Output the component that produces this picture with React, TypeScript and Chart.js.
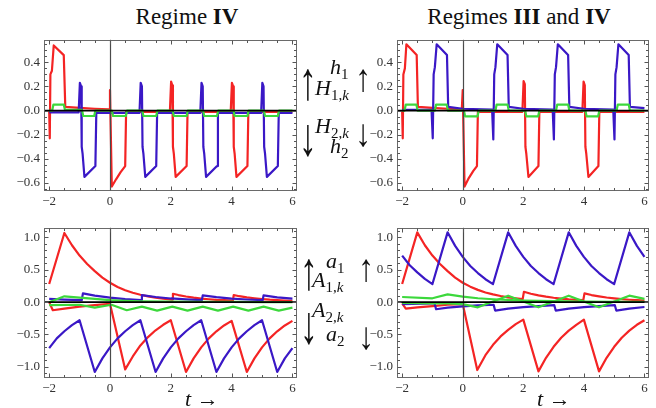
import React, { useEffect, useRef } from "react";
import { Chart, registerables } from "chart.js";
Chart.register(...registerables);

const RED = "#f42424";
const BLUE = "#3a18c6";
const GREEN = "#3cd83c";

const xTicks = [-2, 0, 2, 4, 6];
const hTicks = [-0.6, -0.4, -0.2, 0, 0.2, 0.4];
const aTicks = [-1, -0.5, 0, 0.5, 1];

// ---------- top-left: h, Regime IV ----------
const tlRedT = [-2, -1.98, -1.96, -1.91, -1.85, -1.52, -1.47, -1.0, -0.5, -0.03, 0.0, 0.06, 0.2, 0.35, 0.5, 0.53, 1.97, 2.01, 2.05, 2.07, 2.1, 2.16, 2.52, 2.55, 3.97, 4.01, 4.05, 4.07, 4.1, 4.16, 4.52, 4.55, 6.0];
const tlRedY = [0, -0.23, 0.30, 0.33, 0.54, 0.46, 0.03, 0.022, 0.015, 0.01, 0.17, -0.63, -0.57, -0.51, -0.46, -0.01, -0.01, 0.24, 0.21, -0.30, -0.36, -0.55, -0.46, -0.01, -0.01, 0.23, 0.20, -0.30, -0.36, -0.55, -0.46, -0.01, -0.01];
const tlBlueT = [-2, -1.03, -0.99, -0.95, -0.93, -0.9, -0.84, -0.48, -0.45, 0.97, 1.01, 1.05, 1.07, 1.1, 1.16, 1.52, 1.55, 2.97, 3.01, 3.05, 3.07, 3.1, 3.16, 3.52, 3.55, 4.97, 5.01, 5.05, 5.07, 5.1, 5.16, 5.52, 5.55, 6.0];
const tlBlueY = [-0.015, -0.015, 0.23, 0.20, -0.30, -0.36, -0.55, -0.46, -0.02, -0.02, 0.23, 0.20, -0.30, -0.36, -0.55, -0.46, -0.02, -0.02, 0.23, 0.20, -0.30, -0.36, -0.55, -0.46, -0.02, -0.02, 0.23, 0.20, -0.30, -0.36, -0.55, -0.46, -0.02, -0.02];
const tlGreenT = [-2, -1.9, -1.86, -1.52, -1.48, -0.92, -0.88, -0.52, -0.48, 0.06, 0.1, 0.52, 0.56, 1.06, 1.1, 1.52, 1.56, 2.06, 2.1, 2.52, 2.56, 3.06, 3.1, 3.52, 3.56, 4.06, 4.1, 4.52, 4.56, 5.06, 5.1, 5.52, 5.56, 6.0];
const tlGreenY = [0, 0, 0.05, 0.05, 0.005, 0.005, -0.045, -0.045, 0, 0, -0.045, -0.045, 0, 0, -0.045, -0.045, 0, 0, -0.045, -0.045, 0, 0, -0.045, -0.045, 0, 0, -0.045, -0.045, 0, 0, -0.045, -0.045, 0, 0];

// ---------- top-right: h, Regimes III and IV ----------
const trRedT = [-2, -1.98, -1.96, -1.91, -1.86, -1.52, -1.48, -1.0, -0.5, -0.03, 0.0, 0.06, 0.2, 0.35, 0.47, 0.5, 1.97, 2.01, 2.05, 2.07, 2.1, 2.17, 2.5, 2.53, 3.95, 3.99, 4.03, 4.05, 4.08, 4.15, 4.48, 4.51, 6.0];
const trRedY = [0, -0.23, 0.30, 0.35, 0.55, 0.46, 0.03, 0.022, 0.015, 0.01, 0.17, -0.63, -0.56, -0.5, -0.46, -0.01, -0.01, 0.245, 0.22, -0.30, -0.36, -0.55, -0.46, -0.01, -0.01, 0.24, 0.21, -0.30, -0.36, -0.55, -0.46, -0.01, -0.01];
const trBlueT = [-2, -1.03, -0.99, -0.96, -0.92, -0.86, -0.52, -0.48, 0.0, 0.97, 1.01, 1.04, 1.08, 1.14, 1.48, 1.52, 2.0, 2.97, 3.01, 3.04, 3.08, 3.14, 3.48, 3.52, 4.0, 4.97, 5.01, 5.04, 5.08, 5.14, 5.48, 5.52, 6.0];
const trBlueY = [0.005, 0.005, -0.23, 0.30, 0.36, 0.55, 0.46, 0.03, 0.015, 0.008, -0.24, 0.30, 0.36, 0.55, 0.46, 0.03, 0.015, 0.008, -0.24, 0.30, 0.36, 0.55, 0.46, 0.03, 0.015, 0.008, -0.24, 0.30, 0.36, 0.55, 0.46, 0.03, 0.02];
const trGreenT = [-2, -1.92, -1.88, -1.53, -1.49, -0.92, -0.88, -0.53, -0.49, 0.04, 0.08, 0.49, 0.53, 1.08, 1.12, 1.48, 1.52, 2.06, 2.1, 2.49, 2.53, 3.08, 3.12, 3.48, 3.52, 4.05, 4.09, 4.47, 4.51, 5.08, 5.12, 5.48, 5.52, 6.0];
const trGreenY = [0, 0, 0.05, 0.05, 0, 0, 0.05, 0.05, 0, 0, -0.048, -0.048, 0, 0, 0.05, 0.05, 0, 0, -0.048, -0.048, 0, 0, 0.05, 0.05, 0, 0, -0.048, -0.048, 0, 0, 0.05, 0.05, 0, 0];

// ---------- bottom-left: a, Regime IV ----------
const blRedUpT = [-2, -1.5, -1.25, -1.0, -0.75, -0.5, -0.25, 0, 0.25, 0.5, 0.75, 1.0, 1.25, 1.5, 1.75, 2.04, 2.07, 2.25, 2.5, 2.75, 3.0, 3.25, 3.5, 3.75, 4.04, 4.07, 4.25, 4.5, 4.75, 5.0, 5.25, 5.5, 5.75, 6.0];
const blRedUpY = [0.28, 1.07, 0.88, 0.72, 0.59, 0.48, 0.38, 0.30, 0.235, 0.185, 0.145, 0.115, 0.09, 0.07, 0.055, 0.04, 0.13, 0.11, 0.088, 0.07, 0.056, 0.045, 0.036, 0.03, 0.024, 0.11, 0.092, 0.074, 0.06, 0.048, 0.038, 0.031, 0.025, 0.02];
const blRedLoT = [-2, -1.88, -1.5, -1.0, -0.5, 0.0, 0.5, 0.75, 1.0, 1.25, 1.5, 1.75, 2.0, 2.5, 2.75, 3.0, 3.25, 3.5, 3.75, 4.0, 4.5, 4.75, 5.0, 5.25, 5.5, 5.75, 6.0];
const blRedLoY = [0.0, -0.125, -0.10, -0.07, -0.045, -0.025, -1.04, -0.84, -0.67, -0.54, -0.435, -0.35, -0.28, -1.08, -0.87, -0.70, -0.56, -0.45, -0.36, -0.29, -1.08, -0.87, -0.70, -0.56, -0.45, -0.36, -0.29];
const blBlueLoT = [-2, -1.75, -1.5, -1.25, -1.0, -0.5, -0.25, 0, 0.25, 0.5, 0.75, 1.0, 1.5, 1.75, 2.0, 2.25, 2.5, 2.75, 3.0, 3.5, 3.75, 4.0, 4.25, 4.5, 4.75, 5.0, 5.5, 5.75, 6.0];
const blBlueLoY = [-0.71, -0.56, -0.45, -0.355, -0.28, -1.08, -0.87, -0.70, -0.56, -0.45, -0.355, -0.28, -1.08, -0.87, -0.70, -0.56, -0.45, -0.355, -0.28, -1.08, -0.87, -0.70, -0.56, -0.45, -0.355, -0.28, -1.08, -0.87, -0.71];
const blBlueUpT = [-2, -1.5, -0.93, -0.89, -0.5, 0, 0.5, 1.02, 1.05, 1.5, 2.0, 2.5, 3.02, 3.05, 3.5, 4.0, 4.5, 5.02, 5.05, 5.5, 6.0];
const blBlueUpY = [0.05, 0.04, 0.03, 0.135, 0.1, 0.07, 0.048, 0.033, 0.11, 0.08, 0.057, 0.042, 0.03, 0.105, 0.078, 0.056, 0.041, 0.03, 0.105, 0.075, 0.054];
const blGreenUpT = [-2, -1.5, -1.0, -0.5, 0, 0.5, 1.0, 2.0, 3.0, 4.0, 5.0, 6.0];
const blGreenUpY = [0.0, 0.09, 0.07, 0.05, 0.03, 0.02, 0.014, 0.008, 0.005, 0.003, 0.002, 0.001];
const blGreenLoT = [-2, -1.0, -0.5, 0.05, 0.55, 1.05, 1.55, 2.05, 2.55, 3.05, 3.55, 4.05, 4.55, 5.05, 5.55, 6.0];
const blGreenLoY = [-0.045, -0.04, -0.085, -0.04, -0.125, -0.07, -0.13, -0.07, -0.13, -0.07, -0.13, -0.07, -0.13, -0.07, -0.13, -0.085];

// ---------- bottom-right: a, Regimes III and IV ----------
const brRedUpT = [-2, -1.5, -1.25, -1.0, -0.75, -0.5, -0.25, 0, 0.25, 0.5, 0.75, 1.0, 1.25, 1.5, 1.75, 1.98, 2.02, 2.25, 2.5, 2.75, 3.0, 3.25, 3.5, 3.75, 3.98, 4.02, 4.25, 4.5, 4.75, 5.0, 5.25, 5.5, 5.75, 6.0];
const brRedUpY = [0.28, 1.08, 0.88, 0.72, 0.59, 0.48, 0.38, 0.30, 0.24, 0.19, 0.15, 0.12, 0.095, 0.075, 0.06, 0.048, 0.16, 0.13, 0.105, 0.085, 0.068, 0.055, 0.044, 0.036, 0.03, 0.135, 0.11, 0.09, 0.072, 0.058, 0.046, 0.037, 0.03, 0.024];
const brRedLoT = [-2, -1.88, -1.5, -1.0, -0.5, 0.0, 0.48, 0.75, 1.0, 1.25, 1.5, 1.75, 2.0, 2.5, 2.75, 3.0, 3.25, 3.5, 3.75, 4.0, 4.5, 4.75, 5.0, 5.25, 5.5, 5.75, 6.0];
const brRedLoY = [-0.02, -0.1, -0.08, -0.06, -0.04, -0.03, -1.05, -0.82, -0.66, -0.53, -0.43, -0.34, -0.27, -1.07, -0.86, -0.69, -0.55, -0.44, -0.35, -0.27, -1.07, -0.86, -0.69, -0.55, -0.44, -0.35, -0.28];
const brBlueUpT = [-2, -1.75, -1.5, -1.25, -1.0, -0.5, -0.25, 0, 0.25, 0.5, 0.75, 1.0, 1.5, 1.75, 2.0, 2.25, 2.5, 2.75, 3.0, 3.5, 3.75, 4.0, 4.25, 4.5, 4.75, 5.0, 5.5, 5.75, 6.0];
const brBlueUpY = [0.72, 0.57, 0.46, 0.36, 0.28, 1.08, 0.87, 0.70, 0.56, 0.45, 0.355, 0.28, 1.08, 0.87, 0.70, 0.56, 0.45, 0.355, 0.28, 1.08, 0.87, 0.70, 0.56, 0.45, 0.355, 0.28, 1.08, 0.87, 0.70];
const brBlueLoT = [-2, -1.0, -0.93, -0.88, -0.5, 0, 0.5, 1.02, 1.07, 1.5, 2.0, 2.5, 3.02, 3.07, 3.5, 4.0, 4.5, 5.02, 5.07, 5.5, 6.0];
const brBlueLoY = [-0.03, -0.02, -0.02, -0.11, -0.085, -0.065, -0.05, -0.04, -0.13, -0.1, -0.078, -0.06, -0.045, -0.13, -0.1, -0.078, -0.06, -0.045, -0.13, -0.1, -0.075];
const brGreenAT = [-2, -1.0, -0.5, 0, 0.5, 1.0, 2.0, 3.0, 4.0, 5.0, 6.0];
const brGreenAY = [0.08, 0.06, 0.12, 0.085, 0.06, 0.045, 0.025, 0.015, 0.01, 0.006, 0.004];
const brGreenBT = [-2, -1.0, -0.5, 0, 0.5, 1.5, 2.5, 3.5, 4.5, 5.5, 6.0];
const brGreenBY = [-0.01, -0.02, -0.02, -0.03, -0.08, 0.1, -0.08, 0.1, -0.08, 0.1, 0.05];

type Series = { t: number[]; y: number[]; c: string };

const SERIF = "'Liberation Serif', 'Times New Roman', serif";

const fmtX = (v: number) => (v < 0 ? "\u2212" : "") + Math.abs(v).toString();
const fmtY = (v: number) => (v < -1e-9 ? "\u2212" : "") + Math.abs(v).toFixed(1);

type PanelProps = {
  left: number; top: number; width: number; height: number;
  padTop: number; padRight: number; yAxisW: number; xAxisH: number;
  yMin: number; yMax: number; yTicks: number[]; yMajor: number; yMinor: number;
  series: Series[];
};

function Panel(p: PanelProps) {
  const ref = useRef<HTMLCanvasElement | null>(null);
  useEffect(() => {
    if (!ref.current) return;
    const isMajor = (v: number, step: number) => Math.abs(v / step - Math.round(v / step)) < 1e-6;
    const frame = {
      id: "frame",
      afterDatasetsDraw(chart: any) {
        const { ctx, chartArea: a, scales } = chart;
        const xs = scales.x, ys = scales.y;
        ctx.save();
        const x0 = Math.round(xs.getPixelForValue(0)) + 0.5;
        ctx.strokeStyle = "#4a4a4a";
        ctx.lineWidth = 1.2;
        ctx.beginPath(); ctx.moveTo(x0, a.top); ctx.lineTo(x0, a.bottom); ctx.stroke();
        const y0 = ys.getPixelForValue(0);
        ctx.strokeStyle = "#000";
        ctx.lineWidth = 1.6;
        ctx.beginPath(); ctx.moveTo(a.left, y0); ctx.lineTo(a.right, y0); ctx.stroke();
        ctx.strokeStyle = "#6a6a6a";
        ctx.lineWidth = 1;
        const L = Math.round(a.left) + 0.5, R = Math.round(a.right) - 0.5;
        const T = Math.round(a.top) + 0.5, B = Math.round(a.bottom) - 0.5;
        ctx.strokeRect(L, T, R - L, B - T);
        ctx.strokeStyle = "#555";
        ctx.beginPath();
        for (let i = Math.ceil(xs.min / 0.5 - 1e-9); i * 0.5 <= xs.max + 1e-9; i++) {
          const v = i * 0.5;
          const len = isMajor(v, 2) ? 4 : 2.5;
          const px = Math.round(xs.getPixelForValue(v)) + 0.5;
          ctx.moveTo(px, B); ctx.lineTo(px, B - len);
          ctx.moveTo(px, T); ctx.lineTo(px, T + len);
        }
        for (let i = Math.ceil(ys.min / p.yMinor - 1e-9); i * p.yMinor <= ys.max + 1e-9; i++) {
          const v = i * p.yMinor;
          const len = isMajor(v, p.yMajor) ? 4 : 2.5;
          const py = Math.round(ys.getPixelForValue(v)) + 0.5;
          ctx.moveTo(L, py); ctx.lineTo(L + len, py);
          ctx.moveTo(R, py); ctx.lineTo(R - len, py);
        }
        ctx.stroke();
        ctx.restore();
      },
    };
    const font = { family: SERIF, size: 13 };
    const chart = new Chart(ref.current, {
      type: "line",
      data: {
        datasets: p.series.map((s) => ({
          data: s.t.map((t, i) => ({ x: t, y: s.y[i] })),
          borderColor: s.c,
          borderWidth: 2.2,
          pointRadius: 0,
          fill: false,
          tension: 0,
          borderJoinStyle: "round" as const,
        })),
      },
      options: {
        responsive: false,
        animation: false,
        devicePixelRatio: 1,
        layout: { padding: { top: p.padTop, right: p.padRight, left: 0, bottom: 0 } },
        plugins: { legend: { display: false }, tooltip: { enabled: false } },
        scales: {
          x: {
            type: "linear",
            min: -2.17,
            max: 6.15,
            grid: { display: false, drawTicks: false },
            border: { display: false },
            ticks: { padding: 3, font, color: "#333", maxRotation: 0, autoSkip: false, callback: (v: any) => fmtX(Number(v)) },
            afterBuildTicks: (s: any) => { s.ticks = xTicks.map((v) => ({ value: v })); },
            afterFit: (s: any) => { s.height = p.xAxisH; },
          },
          y: {
            type: "linear",
            min: p.yMin,
            max: p.yMax,
            grid: { display: false, drawTicks: false },
            border: { display: false },
            ticks: { padding: 4, font, color: "#333", autoSkip: false, callback: (v: any) => fmtY(Number(v)) },
            afterBuildTicks: (s: any) => { s.ticks = p.yTicks.map((v) => ({ value: v })); },
            afterFit: (s: any) => { s.width = p.yAxisW; },
          },
        },
      } as any,
      plugins: [frame],
    });
    return () => chart.destroy();
  }, []);
  return (
    <canvas
      ref={ref}
      width={p.width}
      height={p.height}
      style={{ position: "absolute", left: p.left, top: p.top, width: p.width, height: p.height }}
    />
  );
}

const mathBase: React.CSSProperties = {
  position: "absolute",
  fontFamily: SERIF,
  fontSize: 22,
  lineHeight: 1,
  whiteSpace: "nowrap",
  color: "#111",
};

function Sym({ base, sub, left, top }: { base: string; sub: React.ReactNode; left: number; top: number }) {
  return (
    <div style={{ ...mathBase, left, top }}>
      <i>{base}</i>
      <span style={{ fontSize: 15, position: "relative", top: 5 }}>{sub}</span>
    </div>
  );
}

function Arrow({ ch, left, top, size, sy }: { ch: string; left: number; top: number; size: number; sy: number }) {
  return (
    <div style={{ ...mathBase, left, top, fontSize: size, transform: `scale(1, ${sy})`, transformOrigin: "50% 50%" }}>{ch}</div>
  );
}

export default function App() {
  const seriesTL: Series[] = [
    { t: tlGreenT, y: tlGreenY, c: GREEN },
    { t: tlBlueT, y: tlBlueY, c: BLUE },
    { t: tlRedT, y: tlRedY, c: RED },
  ];
  const seriesTR: Series[] = [
    { t: trGreenT, y: trGreenY, c: GREEN },
    { t: trBlueT, y: trBlueY, c: BLUE },
    { t: trRedT, y: trRedY, c: RED },
  ];
  const seriesBL: Series[] = [
    { t: blGreenUpT, y: blGreenUpY, c: GREEN },
    { t: blGreenLoT, y: blGreenLoY, c: GREEN },
    { t: blBlueUpT, y: blBlueUpY, c: BLUE },
    { t: blBlueLoT, y: blBlueLoY, c: BLUE },
    { t: blRedUpT, y: blRedUpY, c: RED },
    { t: blRedLoT, y: blRedLoY, c: RED },
  ];
  const seriesBR: Series[] = [
    { t: brGreenAT, y: brGreenAY, c: GREEN },
    { t: brGreenBT, y: brGreenBY, c: GREEN },
    { t: brBlueUpT, y: brBlueUpY, c: BLUE },
    { t: brBlueLoT, y: brBlueLoY, c: BLUE },
    { t: brRedUpT, y: brRedUpY, c: RED },
    { t: brRedLoT, y: brRedLoY, c: RED },
  ];
  const k = <i>k</i>;
  const titleStyle: React.CSSProperties = { position: "absolute", top: 5, textAlign: "center", fontFamily: SERIF, fontSize: 23, lineHeight: "24px", color: "#111" };
  return (
    <div style={{ position: "fixed", left: 0, top: 0, width: 656, height: 408, background: "#fff", overflow: "hidden" }}>
      <div style={{ ...titleStyle, left: 0, width: 374 }}>
        Regime <b>IV</b>
      </div>
      <div style={{ ...titleStyle, left: 400, width: 238 }}>
        Regimes <b>III</b> and <b>IV</b>
      </div>

      <Panel left={0} top={28} width={302} height={180} padTop={6} padRight={5} yAxisW={44} xAxisH={17}
        yMin={-0.667} yMax={0.587} yTicks={hTicks} yMajor={0.2} yMinor={0.05} series={seriesTL} />
      <Panel left={353} top={28} width={303} height={180} padTop={6} padRight={7} yAxisW={44} xAxisH={17}
        yMin={-0.667} yMax={0.587} yTicks={hTicks} yMajor={0.2} yMinor={0.05} series={seriesTR} />
      <Panel left={0} top={216} width={302} height={192} padTop={6} padRight={5} yAxisW={44} xAxisH={30}
        yMin={-1.173} yMax={1.15} yTicks={aTicks} yMajor={0.5} yMinor={0.1} series={seriesBL} />
      <Panel left={353} top={216} width={303} height={192} padTop={6} padRight={7} yAxisW={44} xAxisH={30}
        yMin={-1.173} yMax={1.15} yTicks={aTicks} yMajor={0.5} yMinor={0.1} series={seriesBR} />

      {/* top middle labels */}
      <Arrow ch={"\u2191"} left={299} top={63} size={36} sy={1.5} />
      <Sym base="h" sub="1" left={330} top={56} />
      <Arrow ch={"\u2191"} left={355} top={62} size={32} sy={1.2} />
      <Sym base="H" sub={<>1,{k}</>} left={315} top={77} />
      <Arrow ch={"\u2193"} left={299} top={119} size={36} sy={1.5} />
      <Sym base="H" sub={<>2,{k}</>} left={315} top={115} />
      <Arrow ch={"\u2193"} left={355} top={117} size={32} sy={1.2} />
      <Sym base="h" sub="2" left={330} top={135} />

      {/* bottom middle labels */}
      <Arrow ch={"\u2191"} left={300} top={253} size={36} sy={1.5} />
      <Sym base="a" sub="1" left={326} top={250} />
      <Arrow ch={"\u2191"} left={358} top={252} size={32} sy={1.2} />
      <Sym base="A" sub={<>1,{k}</>} left={312} top={269} />
      <Arrow ch={"\u2193"} left={300} top={307} size={36} sy={1.5} />
      <Sym base="A" sub={<>2,{k}</>} left={312} top={299} />
      <Arrow ch={"\u2193"} left={358} top={320} size={32} sy={1.2} />
      <Sym base="a" sub="2" left={326} top={323} />

      {/* x-axis labels */}
      <div style={{ ...mathBase, left: 185, top: 388, fontSize: 22 }}><i>t</i> {"\u2192"}</div>
      <div style={{ ...mathBase, left: 537, top: 388, fontSize: 22 }}><i>t</i> {"\u2192"}</div>
    </div>
  );
}
